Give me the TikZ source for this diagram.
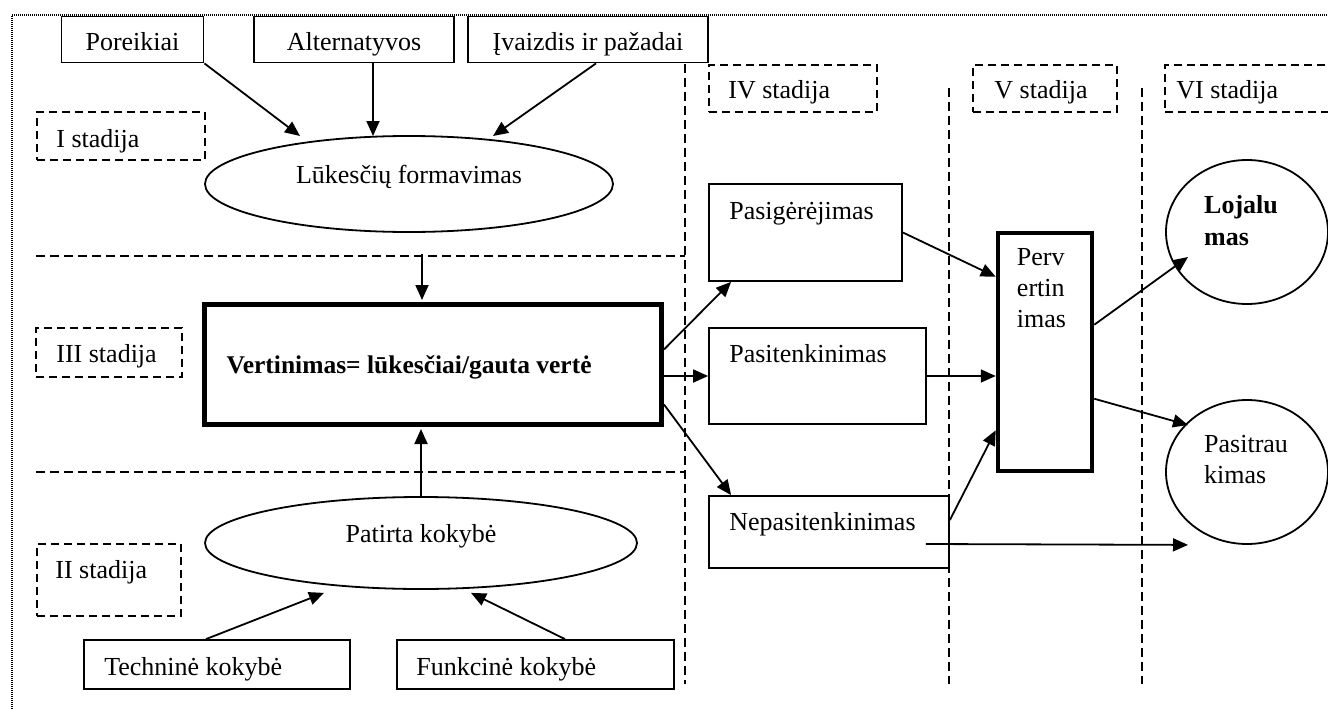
\documentclass[tikz,border=0pt]{standalone}
\usepackage{fontspec}
\setmainfont{Liberation Serif}
\usetikzlibrary{shapes.geometric,arrows.meta,calc}
\begin{document}
\begin{tikzpicture}[x=1pt,y=-1pt,
  font=\fontsize{26}{31}\selectfont,
  box/.style={draw, line width=1.8pt, inner sep=0pt},
  heavybox/.style={draw, line width=5pt, inner sep=0pt},
  stagebox/.style={draw, dash pattern=on 8pt off 5pt, line width=1.6pt, inner sep=0pt},
  oval/.style={draw, ellipse, line width=1.8pt, inner sep=0pt},
  topline/.style={text height=23pt, text depth=0pt},
  raised/.style={text height=10pt, text depth=12pt},
  txt/.style={anchor=base west, inner sep=0pt},
  arr/.style={line width=1.8pt, -{Triangle[length=15pt,width=13pt]}},
  sep/.style={dash pattern=on 9pt off 5pt, line width=1.6pt},
  frame/.style={dash pattern=on 1pt off 1pt, line width=1.2pt},
]
\useasboundingbox (0,0) rectangle (1328,709);

% outer dotted frame
\draw[frame] (12,709) -- (12,15) -- (1328,15);

% stage separators
\draw[sep] (36,256) -- (685,256);
\draw[sep] (36,472) -- (685,472);
\draw[sep] (685,64) -- (685,684);
\draw[sep] (949,88) -- (949,684);
\draw[sep] (1142,88) -- (1142,684);

% inputs of stage I
\node[box, topline, minimum width=142pt, minimum height=46pt] (pore) at (132.5,39.5) {Poreikiai};
\node[box, topline, minimum width=200pt, minimum height=46pt] (alt) at (354,39.5) {Alternatyvos};
\node[box, topline, minimum width=240pt, minimum height=46pt] (ivz) at (588,39.5) {Įvaizdis ir pažadai};

% stage labels
\node[stagebox, minimum width=168pt, minimum height=48pt] (s1) at (121,136) {};
\node[txt] (s1t) at ($(s1.west)+(20,11)$) {I stadija};
\node[stagebox, minimum width=146pt, minimum height=49pt] (s3) at (109,352.5) {};
\node[txt] (s3t) at ($(s3.west)+(21,9.5)$) {III stadija};
\node[stagebox, minimum width=144pt, minimum height=72pt] (s2) at (109,580) {};
\node[txt] (s2t) at ($(s2.west)+(19,-2)$) {II stadija};
\node[stagebox, minimum width=168pt, minimum height=47pt] (s4) at (793,88.5) {};
\node[txt] (s4t) at ($(s4.west)+(20,10.5)$) {IV stadija};
\node[stagebox, minimum width=144pt, minimum height=47pt] (s5) at (1045,88.5) {};
\node[txt] (s5t) at ($(s5.west)+(22,10.5)$) {V stadija};
\node[stagebox, minimum width=180pt, minimum height=47pt] (s6) at (1255,88.5) {};
\node[txt] (s6t) at ($(s6.west)+(12,10.5)$) {VI stadija};

% central column
\node[oval, raised, minimum width=408pt, minimum height=96pt] (L) at (409,184) {Lūkesčių formavimas};
\node[heavybox, minimum width=457pt, minimum height=120pt] (V) at (433,364.5) {};
\node[txt, font=\fontsize{25.5}{30}\selectfont\bfseries] (Vt) at ($(V.west)+(24.5,8.5)$) {Vertinimas= lūkesčiai/gauta vertė};
\node[oval, raised, minimum width=432pt, minimum height=92pt] (P) at (421,543) {Patirta kokybė};
\node[box, minimum width=266pt, minimum height=49pt] (tech) at (217,664.5) {};
\node[txt] (techt) at ($(tech.west)+(21,10.5)$) {Techninė kokybė};
\node[box, minimum width=277pt, minimum height=49pt] (fun) at (535.5,664.5) {};
\node[txt] (funt) at ($(fun.west)+(20,10.5)$) {Funkcinė kokybė};

% stage IV outcomes
\node[box, minimum width=193pt, minimum height=97pt] (pg) at (805.5,232.5) {};
\node[txt] (pgt) at ($(pg.north west)+(21,36)$) {Pasigėrėjimas};
\node[box, minimum width=217pt, minimum height=96pt] (pt) at (817.5,376) {};
\node[txt] (ptt) at ($(pt.north west)+(21,35)$) {Pasitenkinimas};
\node[box, minimum width=240pt, minimum height=72pt] (np) at (829,532) {};
\node[txt] (npt) at ($(np.north west)+(21,35)$) {Nepasitenkinimas};

% stage V
\node[draw, line width=4.5pt, inner sep=0pt, minimum width=94pt, minimum height=238pt] (pv) at (1045,352) {};
\node[txt] (pv1) at ($(pv.north west)+(21,35)$) {Perv};
\node[txt] (pv2) at ($(pv.north west)+(21,66)$) {ertin};
\node[txt] (pv3) at ($(pv.north west)+(21,97)$) {imas};

% stage VI
\node[oval, minimum width=162pt, minimum height=144pt] (lo) at (1247,232) {};
\node[txt, font=\fontsize{26}{31}\selectfont\bfseries] (lo1) at ($(lo.center)+(-43,-19)$) {Lojalu};
\node[txt, font=\fontsize{26}{31}\selectfont\bfseries] (lo2) at ($(lo.center)+(-43,13)$) {mas};
\node[oval, minimum width=162pt, minimum height=144pt] (pk) at (1247,472) {};
\node[txt] (pk1) at ($(pk.center)+(-43,-20)$) {Pasitrau};
\node[txt] (pk2) at ($(pk.center)+(-43,11)$) {kimas};

% connectors
\draw[arr] (pore.south east) -- ($(L.center)+(-109,-48)$);
\draw[arr] ($(alt.south)+(19,0)$) -- ($(L.center)+(-36,-48)$);
\draw[arr] ($(ivz.south)+(8,0)$) -- ($(L.center)+(84,-48)$);
\draw[arr] ($(V.north)+(-11,-48)$) -- ($(V.north)+(-11,-2)$);
\draw[arr] (P.north) -- ($(P.north |- V.south)+(0,2)$);
\draw[arr] ($(tech.north)+(-11,0)$) -- ($(P.south)+(-97,3)$);
\draw[arr] ($(fun.north)+(29.5,0)$) -- ($(P.south)+(50,3)$);
\draw[arr] ($(V.east)+(0,-15)$) -- ($(pg.south west)+(23,0)$);
\draw[arr] (V.east |- pt.west) -- (pt.west);
\draw[arr] ($(V.east)+(0,40)$) -- ($(np.north west)+(23,0)$);
\draw[arr] (pg.east) -- ($(pv.north west)+(0,46)$);
\draw[arr] (pt.east) -- (pt.east -| pv.west);
\draw[arr] ($(np.east)+(0,-12)$) -- ($(pv.south west)+(0,-43)$);
\draw[arr] ($(pv.north east)+(0,94)$) -- ($(lo.center)+(-59,25)$);
\draw[arr] ($(pv.north east)+(0,168)$) -- ($(pk.center)+(-59,-47)$);
\draw[arr] ($(np.east)+(-24,12)$) -- ($(pk.south)+(-59,0)$);
\end{tikzpicture}
\end{document}
